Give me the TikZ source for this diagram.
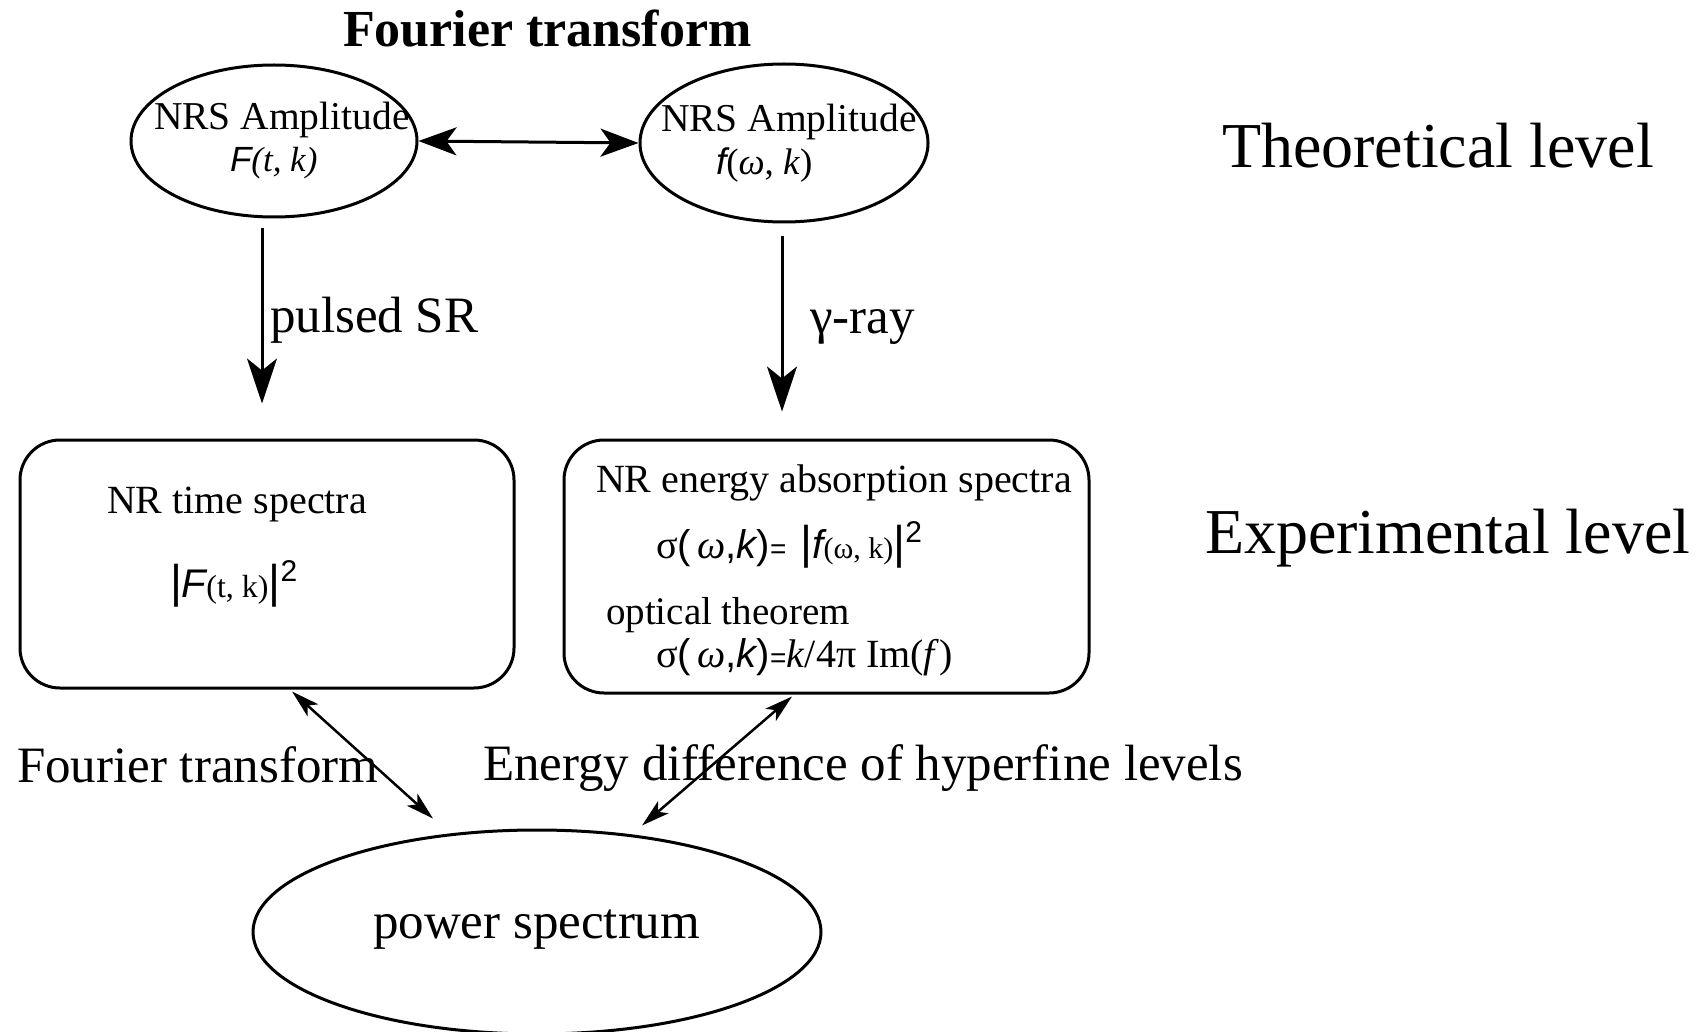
\documentclass[tikz,border=0pt]{standalone}
\usepackage{fontspec}
\setmainfont{Liberation Serif}
\newfontfamily\sansf{Liberation Sans}
\usetikzlibrary{shapes.geometric,arrows.meta}
\newcommand{\sfit}[1]{{\sansf\itshape #1}}
\newcommand{\fsz}[1]{\fontsize{#1}{#1}\selectfont}
\newcommand{\tbar}{{\sansf\fsz{46}|}}
\tikzset{
  ell/.style={ellipse, draw, line width=3pt, inner sep=0pt},
  rbox/.style={rectangle, draw, rounded corners=40pt, line width=3pt, inner sep=0pt},
  txt/.style={anchor=base west, inner sep=0pt, outer sep=0pt},
  bigarr/.style={line width=3pt, -{Stealth[length=45pt,width=30pt,inset=12pt]}},
  harr/.style={line width=3pt, {Stealth[length=38pt,width=28pt,inset=10pt]}-{Stealth[length=38pt,width=28pt,inset=10pt]}},
  darr/.style={line width=2.5pt, {Stealth[length=28pt,width=16pt,inset=7pt]}-{Stealth[length=28pt,width=16pt,inset=7pt]}}
}
\begin{document}
\begin{tikzpicture}[x=1pt,y=-1pt]
\useasboundingbox (0,0) rectangle (1704,1032);
% shapes
\node[ell, minimum width=286pt, minimum height=152pt] (e1) at (274,141) {};
\node[ell, minimum width=288pt, minimum height=158pt] (e2) at (784,143) {};
\node[rbox, minimum width=494pt, minimum height=248pt] (b1) at (267,564) {};
\node[rbox, minimum width=525pt, minimum height=253pt] (b2) at (826.5,566.5) {};
\node[ell, minimum width=568pt, minimum height=204pt] (ps) at (537,932) {};
% texts
\node[txt] (title) at (343,47) {\fsz{52}\bfseries Fourier transform};
\node[txt] (e1a) at (154,130) {\fsz{39.5}NRS Amplitude};
\node[txt] (e1b) at (230,172) {\fsz{35}\sfit{F}\textit{(t, k)}};
\node[txt] (e2a) at (661,132) {\fsz{39.5}NRS Amplitude};
\node[txt] (e2b) at (716,175) {\fsz{37}\sfit{f}(\textit{ω}, \textit{k})};
\node[txt] (pul) at (270,332) {\fsz{51}pulsed SR};
\node[txt] (gam) at (810,333) {\fsz{51}γ-ray};
\node[txt] (theo) at (1222,168) {\fsz{64}Theoretical level};
\node[txt] (expe) at (1205,553) {\fsz{64}Experimental level};
\node[txt] (b1a) at (107,513) {\fsz{40}NR time spectra};
\node[txt] (b1b) at (170,597) {\fsz{40}\tbar\sfit{F}{\fsz{32}(t, k)}\tbar\raisebox{16pt}{\sansf\fsz{30}2}};
\node[txt] (b2a) at (596,492) {\fsz{40}NR energy absorption spectra};
\node[txt] (b2b) at (656,558) {\fsz{40}σ{\sansf(}\,\textit{ω}{\sansf,}\sfit{k}{\sansf)}{\sansf\fsz{28}=}\hspace{14pt}\tbar\sfit{f}{\fsz{30}(ω, k)}\tbar\raisebox{16pt}{\sansf\fsz{30}2}};
\node[txt] (b2c) at (606,624) {\fsz{39}optical theorem};
\node[txt] (b2d) at (656,667) {\fsz{40}σ{\sansf(}\,\textit{ω}{\sansf,}\sfit{k}{\sansf)}{\sansf\fsz{28}=}\textit{k}/4π Im(\textit{f})};
\node[txt] (ftl) at (17,782) {\fsz{51}Fourier transform};
\node[txt] (edl) at (483,780) {\fsz{51}Energy difference of hyperfine levels};
\node[txt] (pst) at (373,938) {\fsz{51}power spectrum};
% connectors
\draw[harr] (e1.east) -- (e2.west);
\draw[bigarr] ([xshift=-12pt,yshift=-10pt]e1.south) -- ([xshift=-5pt,yshift=35pt]b1.north);
\draw[bigarr] ([xshift=-2pt,yshift=-13pt]e2.south) -- ([xshift=-44.5pt,yshift=27pt]b2.north);
\draw[darr] ([xshift=25pt,yshift=-2pt]b1.south) -- ([xshift=-104pt,yshift=10pt]ps.north);
\draw[darr] ([xshift=-34.5pt,yshift=-2pt]b2.south) -- ([xshift=105pt,yshift=3pt]ps.north);
\end{tikzpicture}
\end{document}
